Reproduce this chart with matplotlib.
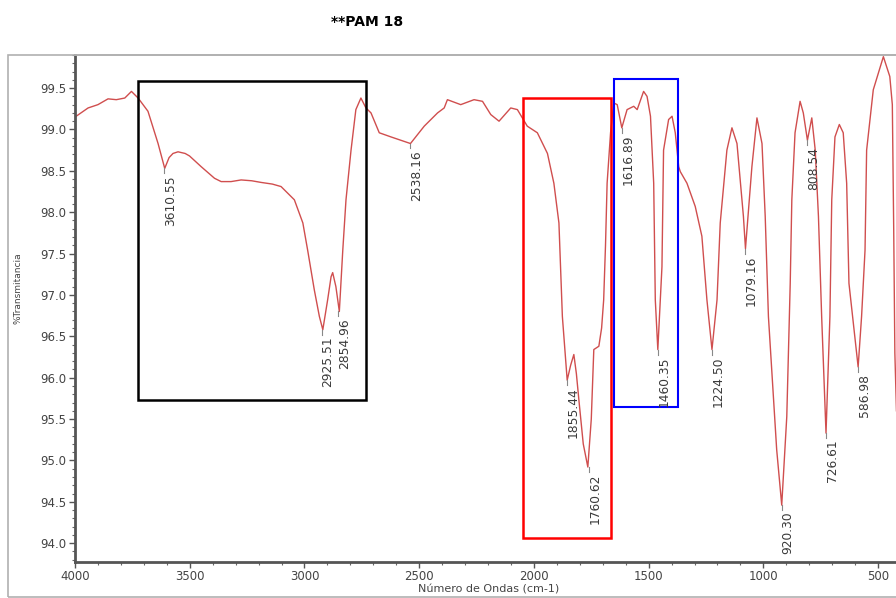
import matplotlib
matplotlib.use("Agg")
import matplotlib.pyplot as plt
from matplotlib.patches import Rectangle
from matplotlib.ticker import MultipleLocator

plt.rcParams['font.family'] = ['DejaVu Sans']

# spectrum (wavenumber, %T)
wavenumber = [4000, 3943, 3900, 3856, 3820, 3783, 3754, 3725, 3682, 3638,
              3609, 3590, 3573, 3551, 3520, 3501, 3450, 3392, 3363, 3320,
              3276, 3230, 3189, 3140, 3102, 3044, 3007, 2986, 2957, 2935,
              2920, 2899, 2884, 2877, 2863, 2848, 2841, 2833, 2819, 2797,
              2776, 2754, 2732, 2710, 2674, 2623, 2580, 2538, 2478, 2420,
              2391, 2377, 2319, 2261, 2224, 2188, 2152, 2101, 2072, 2029,
              1985, 1941, 1913, 1891, 1876, 1855, 1840, 1826, 1815, 1804,
              1785, 1765, 1750, 1739, 1717, 1705, 1696, 1688, 1681, 1666,
              1652, 1637, 1617, 1594, 1565, 1550, 1522, 1507, 1492, 1478,
              1471, 1460, 1450, 1442, 1435, 1413, 1398, 1384, 1369, 1362,
              1333, 1297, 1268, 1246, 1224, 1202, 1188, 1159, 1137, 1115,
              1087, 1078, 1050, 1028, 1006, 992, 978, 942, 920, 898,
              883, 876, 862, 840, 826, 808, 789, 774, 760, 746,
              727, 710, 702, 688, 669, 652, 637, 627, 587, 572,
              557, 550, 521, 477, 449, 438, 432, 427, 420]
transmittance = [99.15, 99.26, 99.30, 99.37, 99.36, 99.38, 99.46, 99.38, 99.22, 98.83,
                 98.53, 98.66, 98.71, 98.73, 98.71, 98.68, 98.55, 98.41, 98.37, 98.37,
                 98.39, 98.38, 98.36, 98.34, 98.31, 98.15, 97.87, 97.54, 97.06, 96.74,
                 96.58, 96.94, 97.22, 97.27, 97.10, 96.80, 97.14, 97.54, 98.15, 98.75,
                 99.24, 99.38, 99.26, 99.20, 98.96, 98.91, 98.87, 98.83, 99.04, 99.20,
                 99.26, 99.36, 99.30, 99.36, 99.34, 99.18, 99.10, 99.26, 99.24, 99.04,
                 98.96, 98.71, 98.35, 97.87, 96.74, 95.97, 96.15, 96.28, 96.05, 95.73,
                 95.20, 94.92, 95.50, 96.34, 96.38, 96.60, 96.94, 97.60, 98.35, 98.96,
                 99.32, 99.30, 99.02, 99.24, 99.28, 99.24, 99.46, 99.40, 99.16, 98.35,
                 96.94, 96.34, 96.90, 97.34, 98.75, 99.12, 99.16, 98.96, 98.55, 98.49,
                 98.35, 98.07, 97.71, 96.94, 96.34, 96.94, 97.87, 98.75, 99.02, 98.83,
                 97.95, 97.56, 98.55, 99.14, 98.83, 97.95, 96.74, 95.13, 94.46, 95.53,
                 97.14, 98.15, 98.96, 99.34, 99.20, 98.87, 99.14, 98.75, 97.95, 96.74,
                 95.33, 96.74, 98.15, 98.91, 99.06, 98.96, 98.35, 97.14, 96.13, 96.74,
                 97.54, 98.75, 99.48, 99.88, 99.64, 99.30, 97.80, 96.30, 95.60]

# labelled peaks
peak_labels = ['3610.55', '2925.51', '2854.96', '2538.16', '1855.44', '1760.62',
               '1616.89', '1460.35', '1224.50', '1079.16', '920.30', '808.54',
               '726.61', '586.98']
peak_t = [98.53, 96.58, 96.80, 98.83, 95.97, 94.92,
          99.02, 96.34, 96.34, 97.56, 94.46, 98.87,
          95.33, 96.13]

# highlighted regions: (wn_left, wn_right, t_bottom, t_top, colour)
boxes = [(3724, 2732, 95.73, 99.59, 'black'),
         (2049, 1662, 94.06, 99.38, 'red'),
         (1653, 1370, 95.65, 99.61, 'blue')]

fig = plt.figure(figsize=(8.96, 5.98), dpi=100)

# outer grey frame
fig.patches.append(Rectangle((8 / 896, 1 - 597 / 598), 1.2, 597 / 598 - 55 / 598,
                             transform=fig.transFigure, fill=False,
                             edgecolor='#b0b0b0', lw=1.2))

ax = fig.add_axes([75 / 896, 1 - 561.7 / 598, 1 - 75 / 896, (561.7 - 55) / 598])
ax.plot(wavenumber, transmittance, color='#d04e4e', lw=1.0)
ax.set_xlim(4000, 422)
ax.set_ylim(93.776, 99.90)

for x0, x1, y0, y1, c in boxes:
    lw = 1.5 if c == 'blue' else 1.8
    ax.add_patch(Rectangle((x0, y0), x1 - x0, y1 - y0, fill=False,
                           edgecolor=c, lw=lw, zorder=3))

for lab, t in zip(peak_labels, peak_t):
    w = float(lab)
    ax.plot([w, w], [t, t - 0.06], color='#888888', lw=0.8)
    ax.text(w - 28, t - 0.08, lab, rotation=90, ha='center', va='top',
            fontsize=8.8, color='#3a3a3a')

ax.xaxis.set_major_locator(MultipleLocator(500))
ax.xaxis.set_minor_locator(MultipleLocator(100))
ax.yaxis.set_major_locator(MultipleLocator(0.5))
ax.yaxis.set_minor_locator(MultipleLocator(0.1))
ax.tick_params(which='major', direction='out', length=4, width=1, pad=2,
               colors='#555555', labelsize=8.5, labelcolor='#444444')
ax.tick_params(which='minor', direction='out', length=2, width=0.8, colors='#666666')
ax.yaxis.set_major_formatter(plt.FuncFormatter(lambda v, p: f'{v:.1f}'))

for s in ['left', 'bottom']:
    ax.spines[s].set_color('#555555')
    ax.spines[s].set_linewidth(2)
ax.spines['top'].set_color('#b0b0b0')
ax.spines['top'].set_linewidth(1.2)
ax.spines['right'].set_visible(False)

fig.text(367 / 896, 1 - 22 / 598, '**PAM 18', ha='center', va='center',
         fontsize=10, fontweight='bold')
fig.text(18 / 896, 1 - 288 / 598, '%Transmitancia', rotation=90,
         ha='center', va='center', fontsize=6.5, color='#444444')
fig.text(489 / 896, 1 - 590 / 598, 'Número de Ondas (cm-1)',
         ha='center', va='center', fontsize=8, color='#444444')

fig.savefig('out.png', dpi=100)
